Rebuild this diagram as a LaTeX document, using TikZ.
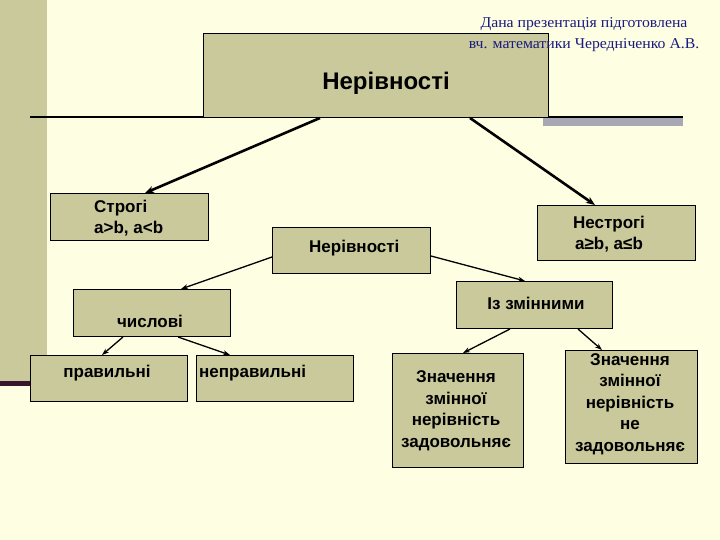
\documentclass[tikz,border=0pt]{standalone}
\usepackage{fontspec}
\setmainfont{Liberation Sans}
\newfontfamily\serifauthor{Liberation Serif}
\usetikzlibrary{arrows.meta,calc}
\definecolor{bgc}{HTML}{FEFEE2}
\definecolor{khaki}{HTML}{C9C99B}
\definecolor{bargray}{HTML}{A8A8B4}
\definecolor{authorblue}{HTML}{1A1A80}
\definecolor{darkpurple}{HTML}{3A1530}
\tikzset{
  box/.style={draw=black, line width=1pt, fill=khaki, inner sep=0pt, anchor=north west},
  lbl/.style={font=\bfseries\fontsize{17}{21.5}\selectfont, inner sep=0pt, align=center},
  thickarrow/.style={-{Stealth[length=9pt,width=7pt]}, line width=2.6pt},
  thinarrow/.style={-{Stealth[length=7pt,width=5pt]}, line width=1.3pt}
}
\begin{document}
\begin{tikzpicture}[x=1pt,y=-1pt]
\useasboundingbox (0,0) rectangle (720,540);
\fill[bgc] (0,0) rectangle (720,540);
% left band
\fill[khaki] (0,0) rectangle (47,385);
\fill[darkpurple] (0,381) rectangle (30,386);
% horizontal rule and gray bar
\fill[bargray] (543,117) rectangle (683,126);
\draw[line width=2pt] (30,117) -- (683,117);
% boxes
\node[box, minimum width=345pt, minimum height=84pt] (top) at (203,33) {};
\node[font=\bfseries\fontsize{24}{28}\selectfont, inner sep=0pt] (toptext) at (386,83) {Нерівності};

\node[box, minimum width=158pt, minimum height=47pt] (strict) at (50,193) {};
\node[lbl, align=left, anchor=west] (stricttext) at (94,218) {Строгі\\a>b, a<b};

\node[box, minimum width=158pt, minimum height=46pt] (mid) at (272,227) {};
\node[lbl, anchor=west] (midtext) at (309,248) {Нерівності};

\node[box, minimum width=158pt, minimum height=55pt] (nonstrict) at (537,205) {};
\node[lbl] (nonstricttext) at (609,234) {Нестрогі\\a≥b, a≤b};

\node[box, minimum width=157pt, minimum height=47pt] (num) at (73,289) {};
\node[lbl] (numtext) at (150,321) {числові};

\node[box, minimum width=156pt, minimum height=47pt] (var) at (456,281) {};
\node[lbl] (vartext) at (536,303) {Із змінними};

\node[box, minimum width=157pt, minimum height=46pt] (right) at (30,355) {};
\node[lbl] (righttext) at (107,373) {правильні};

\node[box, minimum width=157pt, minimum height=46pt] (wrong) at (196,355) {};
\node[lbl, anchor=west] (wrongtext) at (199,373) {неправильні};

\node[box, minimum width=131pt, minimum height=114pt] (sat) at (392,353) {};
\node[lbl] (sattext) at (456,411) {Значення\\змінної\\нерівність\\задовольняє};

\node[box, minimum width=132pt, minimum height=113pt] (unsat) at (565,350) {};
\node[lbl] (unsattext) at (630,404) {Значення\\змінної\\нерівність\\не\\задовольняє};

% author note (over the top box)
\node[font=\serifauthor\fontsize{15}{21}\selectfont, text=authorblue, align=center, inner sep=0pt, xscale=1.05] (author) at (584,35)
  {Дана презентація підготовлена\\вч. математики Чередніченко А.В.};

% connectors
\draw[thickarrow] ([xshift=117pt]top.south west) -- ([xshift=95pt]strict.north west);
\draw[thickarrow] ([xshift=267pt]top.south west) -- ([xshift=58pt]nonstrict.north west);
\draw[thinarrow] ([yshift=-30pt]mid.north west) -- ([xshift=108pt]num.north west);
\draw[thinarrow] ([yshift=-29pt]mid.north east) -- ([xshift=69pt]var.north west);
\draw[thinarrow] ([xshift=50pt]num.south west) -- ([xshift=72pt]right.north west);
\draw[thinarrow] ([xshift=105pt]num.south west) -- ([xshift=34pt]wrong.north west);
\draw[thinarrow] ([xshift=54pt]var.south west) -- ([xshift=71pt]sat.north west);
\draw[thinarrow] ([xshift=122pt]var.south west) -- ([xshift=37pt]unsat.north west);
\end{tikzpicture}
\end{document}
